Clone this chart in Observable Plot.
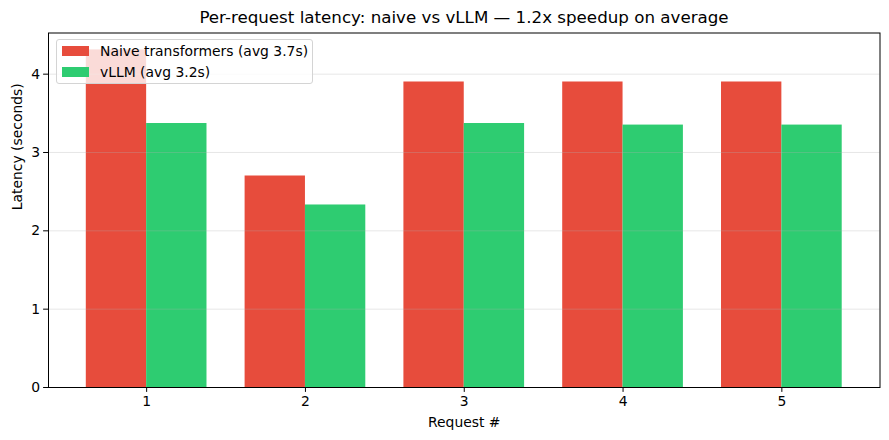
<!DOCTYPE html>
<html>
<head>
<meta charset="utf-8">
<script src="https://cdn.jsdelivr.net/npm/d3@7"></script>
<script src="https://cdn.jsdelivr.net/npm/@observablehq/plot@0.6"></script>
<style>
  html, body { margin: 0; padding: 0; background: #fff; }
  #wrap { position: relative; width: 889px; height: 440px; font-family: "DejaVu Sans", sans-serif; }
  #title { position: absolute; left: 48px; width: 832px; top: 7px; line-height: 20px; text-align: center; font-size: 16.7px; color: #000; white-space: nowrap; }
  #chart { position: absolute; left: 0; top: 28px; }
  #legend { position: absolute; left: 55.5px; top: 39px; width: 257px; height: 45px; box-sizing: border-box;
            border: 1px solid #d4d4d4; border-radius: 3px; background: rgba(255,255,255,0.8); font-size: 13.9px; color: #000; }
  .item { position: absolute; left: 5px; height: 16px; display: flex; align-items: center; white-space: nowrap; }
  .sw { width: 27.5px; height: 10px; margin-right: 11px; }
</style>
</head>
<body>
<div id="wrap">
  <div id="title">Per-request latency: naive vs vLLM — 1.2x speedup on average</div>
  <div id="chart"></div>
  <div id="legend"></div>
</div>
<script>
const requests = [1, 2, 3, 4, 5];
const naive = [4.31, 2.70, 3.90, 3.90, 3.90];
const vllm = [3.37, 2.33, 3.37, 3.35, 3.35];
const yTicks = [0, 1, 2, 3, 4];
const seriesNames = ["Naive transformers (avg 3.7s)", "vLLM (avg 3.2s)"];
const seriesColors = ["#e74c3c", "#2ecc71"];

const barW = 0.38;
const rows = requests.map((r, i) => ({ r, naive: naive[i], vllm: vllm[i] }));
const xMin = requests[0] - barW, xMax = requests[requests.length - 1] + barW;
const xPad = (xMax - xMin) * 0.05;
const yMax = d3.max([...naive, ...vllm]) * 1.05;

const chart = Plot.plot({
  width: 889,
  height: 412,
  marginLeft: 48,
  marginRight: 9.5,
  marginTop: 4.5,
  marginBottom: 53,
  style: { fontFamily: "DejaVu Sans, sans-serif", fontSize: "13.9px", color: "#000", background: "transparent", overflow: "visible" },
  x: { type: "linear", domain: [xMin - xPad, xMax + xPad] },
  y: { domain: [0, yMax] },
  marks: [
    Plot.rectY(rows, { x1: d => d.r - barW, x2: d => d.r, y1: 0, y2: "naive", fill: seriesColors[0] }),
    Plot.rectY(rows, { x1: d => d.r, x2: d => d.r + barW, y1: 0, y2: "vllm", fill: seriesColors[1] }),
    Plot.gridY(yTicks, { stroke: "#b0b0b0", strokeOpacity: 0.3, strokeWidth: 1 }),
    Plot.frame({ stroke: "#000", strokeWidth: 1 }),
    Plot.axisX(requests, { tickSize: 4.9, tickPadding: 3.5, tickFormat: d => String(d), label: null, fontSize: 13.9 }),
    Plot.axisY(yTicks, { tickSize: 4.9, tickPadding: 3.5, tickFormat: d => String(d), label: null, fontSize: 13.9 }),
    Plot.text(["Request #"], { frameAnchor: "bottom", dy: 35, lineAnchor: "middle", fontSize: 13.9, fill: "#000" }),
    Plot.text(["Latency (seconds)"], { frameAnchor: "left", dx: -31, rotate: -90, lineAnchor: "middle", fontSize: 13.9, fill: "#000" })
  ]
});
document.getElementById("chart").appendChild(chart);

const legend = document.getElementById("legend");
seriesNames.forEach((name, i) => {
  const it = document.createElement("div");
  it.className = "item";
  it.style.top = (3 + i * 21) + "px";
  it.innerHTML = `<span class="sw" style="background:${seriesColors[i]}"></span><span>${name}</span>`;
  legend.appendChild(it);
});
</script>
</body>
</html>
